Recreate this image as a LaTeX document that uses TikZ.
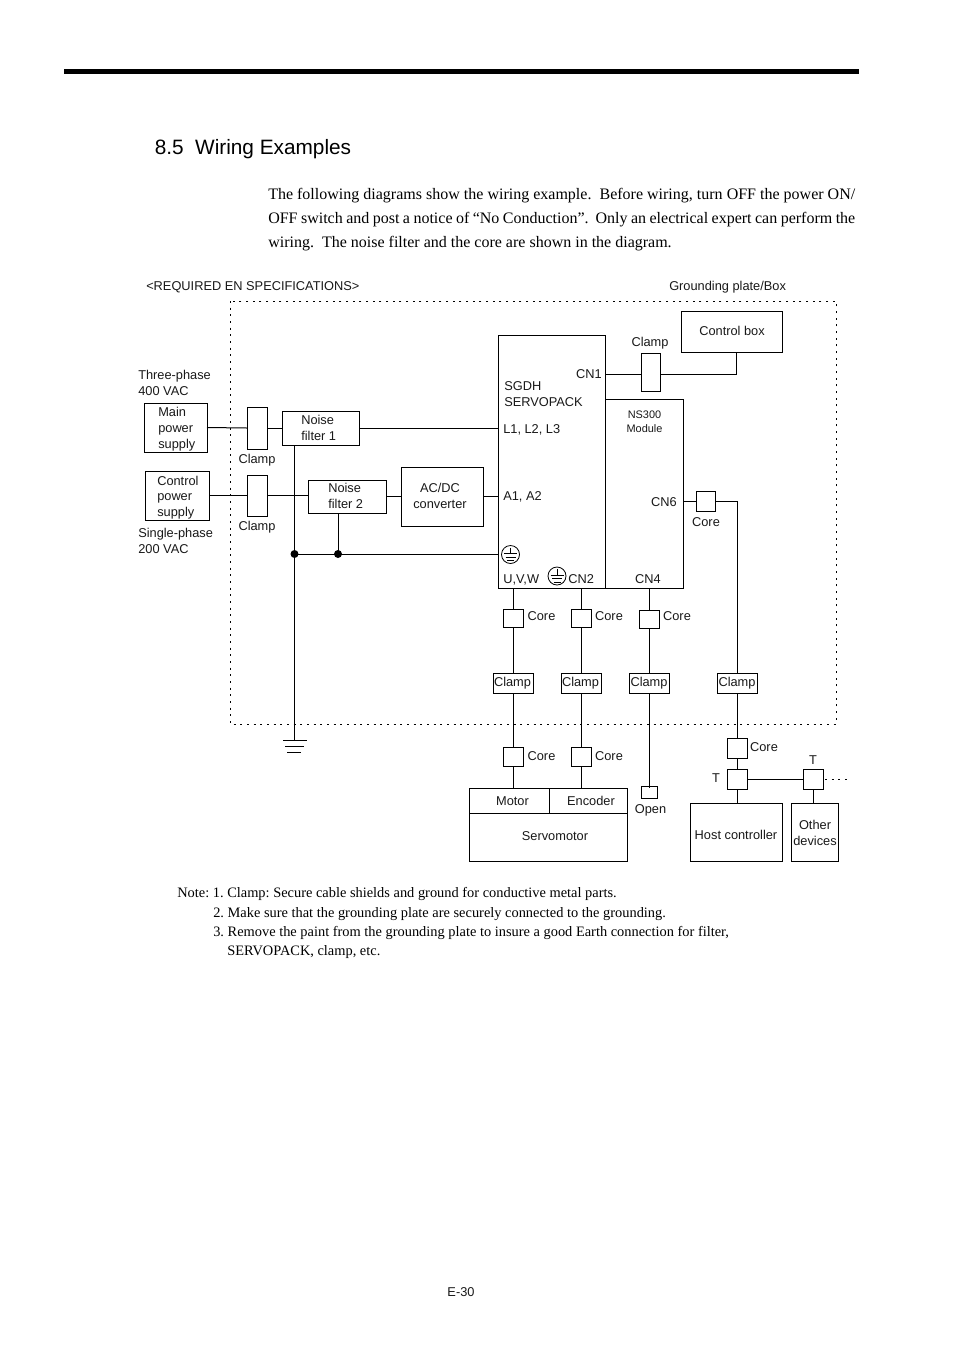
\documentclass[tikz,border=0pt]{standalone}
\usepackage{fontspec}
\setmainfont{Liberation Serif}
\setsansfont{Liberation Sans}
\usetikzlibrary{calc}
\newcommand{\pbox}[5]{% name x1 y1 x2 y2
  \pgfmathsetmacro{\pbw}{(#4-#2)*0.75}\pgfmathsetmacro{\pbh}{(#5-#3)*0.75}
  \node[boxn,minimum width=\pbw pt,minimum height=\pbh pt] (#1) at ({(#2+#4)/2},{(#3+#5)/2}) {};}
\newcommand{\lab}[4][]{\node[lbl,#1] at (#2,#3) {#4};}
\tikzset{
  boxn/.style={draw,line width=0.75pt,inner sep=0pt,outer sep=0pt,fill=none},
  wire/.style={line width=0.75pt},
  lbl/.style={font=\sffamily\fontsize{9.6}{11.6}\selectfont,inner sep=0pt,text=black!90,text height=7pt,text depth=2pt,yshift=-0.75pt},
  note/.style={font=\rmfamily\fontsize{10.8}{14}\selectfont\frenchspacing,inner sep=0pt,anchor=base west},
  para/.style={font=\rmfamily\fontsize{12}{14}\selectfont,inner sep=0pt,anchor=base west},
  dotb/.style={line width=0.75pt,dash pattern=on 1.4pt off 3.6pt},
  jdot/.style={circle,fill=black,inner sep=0pt,minimum size=6pt}
}
\newcommand{\gndsym}[3]{% name x y
  \node[draw,circle,line width=0.6pt,minimum size=13.5pt,inner sep=0pt,outer sep=0pt] (#1) at (#2,#3) {};
  \draw[line width=0.6pt] (#2,#3-7) -- (#2,#3-1) (#2-6.5,#3-1) -- (#2+6.5,#3-1) (#2-5,#3+2.5) -- (#2+5,#3+2.5) (#2-3.5,#3+6) -- (#2+3.5,#3+6);}
\begin{document}
\begin{tikzpicture}[x=0.75pt,y=-0.75pt]
\useasboundingbox (0,0) rectangle (954,1350);
\fill[white] (0,0) rectangle (954,1350);
\fill[black] (64,69) rectangle (859,74);
\node[font=\sffamily\fontsize{15.6}{20}\selectfont,inner sep=0pt,anchor=base west] at (154.5,154) {8.5\hspace{0.55em}Wiring Examples};
\node[para] at (268,199) {\hbox to 440.25pt{The following diagrams show the wiring example.\ \ Before wiring, turn OFF the power ON/}};
\node[para] at (268,223) {\hbox to 440.25pt{OFF switch and post a notice of “No Conduction”.\ \ Only an electrical expert can perform the}};
\node[para] at (268,247) {wiring.\ \ The noise filter and the core are shown in the diagram.};
\lab[anchor=west]{146}{286}{<REQUIRED EN SPECIFICATIONS>}
\lab[anchor=west]{669}{286}{Grounding plate/Box}
\draw[dotb] (230,301) rectangle (836,724);
% boxes
\pbox{ctrlbox}{681}{311}{782}{352}
\pbox{sp}{498}{335}{605}{588}
\pbox{ns}{605}{399}{683}{588}
\pbox{clampT}{641}{353}{660}{391}
\pbox{mainps}{144}{403}{207}{452}
\pbox{ctrlps}{145}{471}{209}{520}
\pbox{clampA}{247}{407}{267}{449}
\pbox{clampB}{247}{475}{267}{516}
\pbox{nfa}{282}{411}{359}{445}
\pbox{nfb}{308}{480}{386}{513}
\pbox{acdc}{401}{467}{483}{526}
\pbox{core6}{696}{491}{715}{511}
\pbox{coreA}{503}{609}{523}{627}
\pbox{coreB}{571}{609}{591}{627}
\pbox{coreC}{639}{610}{659}{628}
\pbox{clA}{493}{673}{533}{693}
\pbox{clB}{561}{673}{601}{693}
\pbox{clC}{629}{673}{669}{693}
\pbox{clD}{717}{673}{757}{693}
\pbox{coreD}{503}{747}{523}{766}
\pbox{coreE}{571}{747}{591}{766}
\pbox{coreF}{727}{738}{747}{758}
\pbox{tA}{727}{769}{747}{789}
\pbox{tB}{803}{769}{823}{789}
\pbox{motor}{469}{788}{549}{813}
\pbox{enc}{549}{788}{627}{813}
\pbox{smotor}{469}{813}{627}{861}
\pbox{open}{641}{786}{657}{798}
\pbox{host}{690}{803}{782}{861}
\pbox{other}{791}{803}{838}{861}
% helper coordinates
\coordinate (j1) at (294.5,554);
\coordinate (j2) at (338,554);
\coordinate (gt) at (294.5,740);
\coordinate (cn6c) at (737,501);
\coordinate (cn1c) at (736.5,374);
\coordinate (tdot) at (848,779);
% wires
\draw[wire] (mainps.east) -- (clampA.west);
\draw[wire] (clampA.east) -- (nfa.west);
\draw[wire] (nfa.east) -- (nfa.east -| sp.west);
\draw[wire] (ctrlps.east) -- (clampB.west);
\draw[wire] (clampB.east) -- (clampB.east -| nfb.west);
\draw[wire] (nfb.east) -- (nfb.east -| acdc.west);
\draw[wire] (acdc.east) -- (acdc.east -| sp.west);
\draw[wire] (nfa.south -| j1) -- (gt);
\draw[wire] (nfb.south -| j2) -- (j2);
\draw[wire] (j1) -- (j1 -| sp.west);
\node[jdot] (jd1) at (j1) {};
\node[jdot] (jd2) at (j2) {};
\draw[wire] (clampT.west |- cn1c) -- (sp.east |- cn1c);
\draw[wire] (clampT.east |- cn1c) -- (cn1c) -- (ctrlbox.south -| cn1c);
\draw[wire] (core6.west) -- (core6.west -| ns.east);
\draw[wire] (core6.east) -- (cn6c) -- (clD.north);
\draw[wire] (clD.south) -- (coreF.north);
\draw[wire] (coreF.south) -- (tA.north);
\draw[wire] (tA.south) -- (tA.south |- host.north);
\draw[wire] (tA.east) -- (tB.west);
\draw[wire] (tB.south) -- (tB.south |- other.north);
\draw[dotb] (tB.east) ++(2,0) -- (tdot);
\draw[wire] (coreA.north |- sp.south) -- (coreA.north);
\draw[wire] (coreB.north |- sp.south) -- (coreB.north);
\draw[wire] (coreC.north |- sp.south) -- (coreC.north);
\draw[wire] (coreA.south) -- (clA.north);
\draw[wire] (coreB.south) -- (clB.north);
\draw[wire] (coreC.south) -- (clC.north);
\draw[wire] (clA.south) -- (coreD.north);
\draw[wire] (clB.south) -- (coreE.north);
\draw[wire] (clC.south) -- ($(clC.south |- open.north)+(0,2)$);
\draw[wire] (coreD.south) -- (coreD.south |- motor.north);
\draw[wire] (coreE.south) -- (coreE.south |- enc.north);
% ground
\draw[wire] (283,740) -- (307,740) (285,746) -- (304,746) (287,752) -- (301,752);
\gndsym{gndA}{510.5}{554.5}
\gndsym{gndB}{557}{576}
% labels
\lab[anchor=west]{138}{375}{Three-phase}
\lab[anchor=west]{138}{391}{400 VAC}
\lab[anchor=west]{158}{412.5}{Main}
\lab[anchor=west]{158}{428}{power}
\lab[anchor=west]{158}{444}{supply}
\lab[anchor=west]{157}{481}{Control}
\lab[anchor=west]{157}{496.5}{power}
\lab[anchor=west]{157}{512}{supply}
\lab[anchor=west]{138}{533}{Single-phase}
\lab[anchor=west]{138}{549}{200 VAC}
\lab{257}{459}{Clamp}
\lab{257}{526}{Clamp}
\lab[anchor=west]{301}{420}{Noise}
\lab[anchor=west]{301}{436}{filter 1}
\lab[anchor=west]{328}{488}{Noise}
\lab[anchor=west]{328}{504}{filter 2}
\lab{440}{488}{AC/DC}
\lab{440}{504}{converter}
\lab[anchor=west]{504}{386.5}{SGDH}
\lab[anchor=west]{504}{402.5}{SERVOPACK}
\lab[anchor=west]{503}{429}{L1, L2, L3}
\lab[anchor=west]{503}{496}{A1, A2}
\lab[anchor=east]{602}{374}{CN1}
\lab{650}{342}{Clamp}
\lab{732}{331}{Control box}
\node[lbl,font=\sffamily\fontsize{8.2}{10}\selectfont] at (644.5,414) {NS300};
\node[lbl,font=\sffamily\fontsize{8.2}{10}\selectfont] at (644.5,428) {Module};
\lab[anchor=east]{677}{502}{CN6}
\lab{706}{522}{Core}
\lab[anchor=west]{503}{579}{U,V,W}
\lab[anchor=west]{568}{579}{CN2}
\lab{648}{579}{CN4}
\lab{541.5}{616}{Core}
\lab{609}{616}{Core}
\lab{677}{616}{Core}
\lab{512.5}{682.5}{Clamp}
\lab{580.5}{682.5}{Clamp}
\lab{649}{682.5}{Clamp}
\lab{737}{682.5}{Clamp}
\lab{541.5}{756}{Core}
\lab{609}{756}{Core}
\lab{764}{747}{Core}
\lab{716}{778}{T}
\lab{813}{760}{T}
\lab{512.5}{801}{Motor}
\lab{591}{801}{Encoder}
\lab{555}{836}{Servomotor}
\lab{650.5}{809}{Open}
\lab{736}{835}{Host controller}
\lab{815}{825}{Other}
\lab{815}{841}{devices}
% notes
\node[note] at (177,897) {Note: 1. Clamp: Secure cable shields and ground for conductive metal parts.};
\node[note] at (213,917) {2. Make sure that the grounding plate are securely connected to the grounding.};
\node[note] at (213,936) {3. Remove the paint from the grounding plate to insure a good Earth connection for filter,};
\node[note] at (227,955) {SERVOPACK, clamp, etc.};
\node[lbl] at (461,1292) {E-30};
\end{tikzpicture}
\end{document}
